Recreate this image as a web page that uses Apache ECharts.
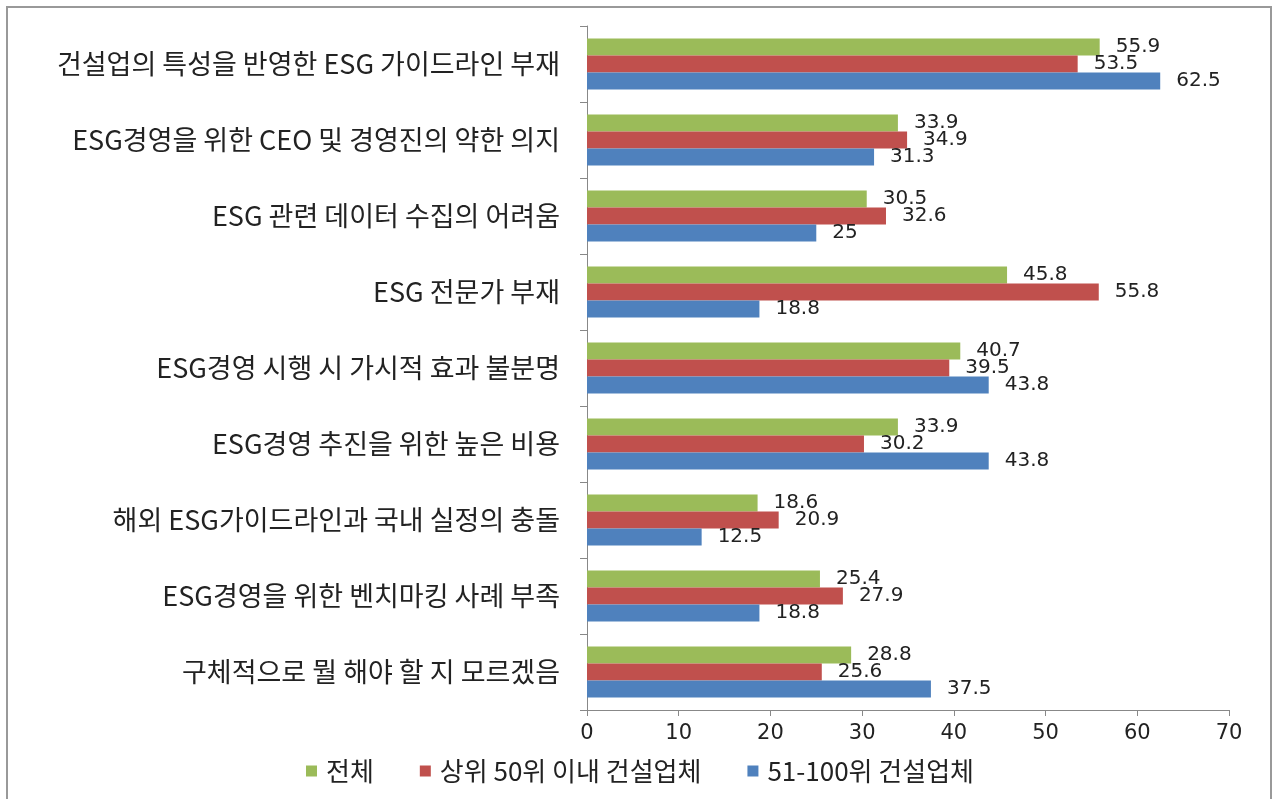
<!DOCTYPE html>
<html>
<head>
<meta charset="utf-8">
<script src="https://cdn.jsdelivr.net/npm/echarts@6/dist/echarts.min.js"></script>
<style>
html,body{margin:0;padding:0;background:#fff;}
#chart{width:1280px;height:799px;}
</style>
</head>
<body>
<div id="chart"></div>
<script>
const categories = [
  '건설업의 특성을 반영한 ESG 가이드라인 부재',
  'ESG경영을 위한 CEO 및 경영진의 약한 의지',
  'ESG 관련 데이터 수집의 어려움',
  'ESG 전문가 부재',
  'ESG경영 시행 시 가시적 효과 불분명',
  'ESG경영 추진을 위한 높은 비용',
  '해외 ESG가이드라인과 국내 실정의 충돌',
  'ESG경영을 위한 벤치마킹 사례 부족',
  '구체적으로 뭘 해야 할 지 모르겠음'
];
const seriesNames = ['전체', '상위 50위 이내 건설업체', '51-100위 건설업체'];
const totalValues = [55.9, 33.9, 30.5, 45.8, 40.7, 33.9, 18.6, 25.4, 28.8];
const top50Values = [53.5, 34.9, 32.6, 55.8, 39.5, 30.2, 20.9, 27.9, 25.6];
const rank51to100Values = [62.5, 31.3, 25, 18.8, 43.8, 43.8, 12.5, 18.8, 37.5];
const xTicks = [0, 10, 20, 30, 40, 50, 60, 70];

const colors = ['#9BBB59', '#C0504D', '#4F81BD'];
const latinFont = 'DejaVu Sans, Noto Sans CJK KR, sans-serif';
const cjkFont = 'Noto Sans CJK KR, DejaVu Sans, sans-serif';

const chart = echarts.init(document.getElementById('chart'));
const dataSets = [totalValues, top50Values, rank51to100Values];

chart.setOption({
  animation: false,
  backgroundColor: '#fff',
  grid: { left: 587, right: 51, top: 26, bottom: 89 },
  legend: {
    bottom: 10,
    left: 'center',
    itemWidth: 11,
    itemHeight: 11,
    itemGap: 46,
    icon: 'rect',
    textStyle: { fontSize: 26, color: '#222', fontFamily: cjkFont, padding: [0, 0, 0, 4] },
    data: seriesNames
  },
  xAxis: {
    type: 'value',
    min: xTicks[0],
    max: xTicks[xTicks.length - 1],
    interval: 10,
    splitLine: { show: false },
    axisLine: { show: true, lineStyle: { color: '#888', width: 1 } },
    axisTick: { show: true, length: 6, lineStyle: { color: '#888' } },
    axisLabel: { fontSize: 21, color: '#222', margin: 13, fontFamily: latinFont }
  },
  yAxis: {
    type: 'category',
    inverse: true,
    data: categories,
    axisLine: { show: true, lineStyle: { color: '#888', width: 1 } },
    axisTick: { show: true, length: 7, lineStyle: { color: '#888' } },
    axisLabel: { fontSize: 27, color: '#222', margin: 27, fontFamily: cjkFont }
  },
  series: seriesNames.map((name, i) => ({
    name: name,
    type: 'bar',
    data: dataSets[i],
    barGap: '0%',
    barCategoryGap: '33%',
    itemStyle: { color: colors[i] },
    label: {
      show: true,
      position: 'right',
      distance: 16,
      fontSize: 20,
      color: '#222',
      fontFamily: latinFont
    }
  })),
  graphic: [{
    type: 'rect',
    shape: { x: 7, y: 7, width: 1264, height: 820 },
    style: { fill: 'none', stroke: '#999', lineWidth: 2 },
    silent: true
  }]
});
</script>
</body>
</html>
